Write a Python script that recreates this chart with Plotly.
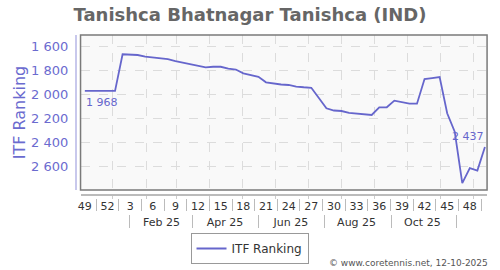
import pandas as pd
import plotly.graph_objects as go

# ---------------- data ----------------
start_date = "2024-12-06"
ranking = [1968, 1968, 1968, 1968, 1968, 1663, 1665, 1669, 1682, 1690,
           1697, 1703, 1719, 1731, 1746, 1761, 1772, 1767, 1767, 1783,
           1790, 1822, 1838, 1851, 1897, 1909, 1915, 1919, 1932, 1938,
           1942, 2028, 2113, 2132, 2136, 2151, 2156, 2158, 2169, 2105,
           2105, 2050, 2061, 2075, 2075, 1869, 1861, 1853, 2155, 2308,
           2738, 2613, 2633, 2437]
week_labels = ["49", "52", "3", "6", "9", "12", "15", "18", "21", "24",
               "27", "30", "33", "36", "39", "42", "45", "48"]
month_labels = ["Feb 25", "Apr 25", "Jun 25", "Aug 25", "Oct 25"]
month_label_dates = ["2025-02-15", "2025-04-15", "2025-06-15", "2025-08-15", "2025-10-15"]
month_sep_dates = ["2025-01-16", "2025-03-16", "2025-05-16", "2025-07-16", "2025-09-16", "2025-11-16"]
grid_dates = ["2025-%02d-01" % m for m in range(1, 13)]
y_ticks = [1600, 1800, 2000, 2200, 2400, 2600]
series_name = "ITF Ranking"

dates = pd.date_range(start=start_date, periods=len(ranking), freq="7D")
week_tick_dates = list(dates[::3])[:len(week_labels)]
week_sep_dates = [a + (b - a) / 2 for a, b in zip(week_tick_dates[:-1], week_tick_dates[1:])]
week_sep_dates.append(week_tick_dates[-1] + (week_tick_dates[-1] - week_tick_dates[-2]) / 2)

# ---------------- styling ----------------
W, H = 500, 270
LINE = "#6666cc"
LABEL = "#6b6bcf"
FONT = "DejaVu Sans"
x_range = ["2024-12-02", "2025-12-14"]


def fx(p):
    return p / W


def fy(p):
    return 1 - p / H


def fmt(v):
    return f"{v:,}".replace(",", " ")


fig = go.Figure()
fig.add_trace(go.Scatter(
    x=dates, y=ranking, name=series_name, mode="lines",
    line=dict(color=LINE, width=1.8),
    hoverinfo="skip",
))
# invisible companions so the secondary label axes get drawn
for xa in ("x2", "x3"):
    fig.add_trace(go.Scatter(
        x=dates, y=ranking, xaxis=xa, yaxis="y", mode="lines",
        line=dict(color="rgba(0,0,0,0)", width=0), showlegend=False, hoverinfo="skip",
    ))

point_labels = [
    dict(x=dates[0], y=ranking[0], text=fmt(ranking[0]), xref="x", yref="y",
         xanchor="left", yanchor="top", yshift=-3, xshift=-1, showarrow=False,
         font=dict(family=FONT, size=11, color=LINE)),
    dict(x=dates[-1], y=ranking[-1], text=fmt(ranking[-1]), xref="x", yref="y",
         xanchor="right", yanchor="bottom", yshift=2, xshift=1, showarrow=False,
         font=dict(family=FONT, size=11, color=LINE)),
]

fig.update_layout(
    width=W, height=H,
    margin=dict(l=0, r=0, t=0, b=0),
    paper_bgcolor="white",
    plot_bgcolor="#f9f9f9",
    separators=". ",
    font=dict(family=FONT, size=11, color="#333"),
    title=dict(text="Tanishca Bhatnagar Tanishca (IND)", x=0.5, xanchor="center",
               y=fy(15), yanchor="middle",
               font=dict(family=FONT, size=18, color="#666", weight="bold")),
    showlegend=True,
    legend=dict(orientation="h", x=0.496, xanchor="center", y=fy(233), yanchor="top",
                bordercolor="#999", borderwidth=1, bgcolor="white",
                font=dict(family=FONT, size=12, color="#333")),
    xaxis=dict(
        type="date", range=x_range, domain=[fx(78), fx(487)],
        anchor="free", position=fy(195),
        showline=True, linecolor="#bbb", linewidth=1.5,
        tickmode="array", tickvals=grid_dates, ticktext=[""] * len(grid_dates),
        ticks="outside", ticklen=3, tickcolor="#ccc",
        showgrid=True, gridcolor="#dcdcdc", griddash="dash", gridwidth=1,
        zeroline=False,
    ),
    xaxis2=dict(
        type="date", range=x_range, domain=[fx(78), fx(487)],
        overlaying="x", anchor="free", position=fy(198),
        showline=False, showgrid=False, zeroline=False,
        tickmode="array", tickvals=week_tick_dates, ticktext=week_labels,
        ticks="", tickfont=dict(family=FONT, size=11, color="#333"),
        minor=dict(tickmode="array", tickvals=week_sep_dates, ticks="outside",
                   ticklen=12, tickcolor="#bbb", tickwidth=1, showgrid=False),
    ),
    xaxis3=dict(
        type="date", range=x_range, domain=[fx(78), fx(487)],
        overlaying="x", anchor="free", position=fy(214),
        showline=False, showgrid=False, zeroline=False,
        tickmode="array", tickvals=month_label_dates, ticktext=month_labels,
        ticks="", tickfont=dict(family=FONT, size=11, color="#333"),
        minor=dict(tickmode="array", tickvals=month_sep_dates, ticks="outside",
                   ticklen=13, tickcolor="#bbb", tickwidth=1, showgrid=False),
    ),
    yaxis=dict(
        range=[2795, 1502], domain=[fy(190), fy(35)],
        anchor="free", position=fx(73),
        showline=True, linecolor="#c8c8ec", linewidth=1.5,
        tickmode="array", tickvals=y_ticks, tickformat=",d",
        ticks="outside", ticklen=4, tickcolor="rgba(0,0,0,0)",
        tickfont=dict(family=FONT, size=13, color=LABEL),
        showgrid=True, gridcolor="#dcdcdc", griddash="dash", gridwidth=1,
        zeroline=False,
        title=dict(text=series_name, font=dict(family=FONT, size=16, color=LABEL), standoff=0),
    ),
    shapes=[dict(type="rect", xref="x domain", yref="y domain", x0=0, x1=1, y0=0, y1=1,
                 line=dict(color="#7a7a7a", width=1.5), layer="above")],
    annotations=point_labels + [
        dict(text="© www.coretennis.net, 12-10-2025", xref="paper", yref="paper",
             x=fx(490), y=fy(263), xanchor="right", yanchor="middle",
             showarrow=False, font=dict(family=FONT, size=9, color="#555"))],
)

fig.write_html("out.html")
